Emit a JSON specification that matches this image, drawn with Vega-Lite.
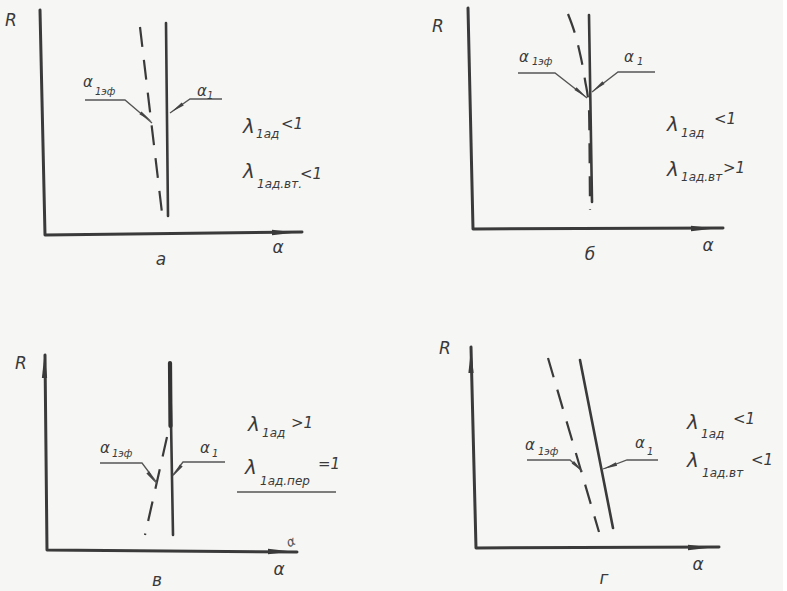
{
  "$schema": "https://vega.github.io/schema/vega-lite/v6.json",
  "padding": 0,
  "background": "#f6f6f4",
  "config": {"view": {"stroke": null}},
  "data": {"values": [
    {"panel": "а", "kind": "axis", "id": "ax", "order": 1, "x": -0.5, "y": 22.5},
    {"panel": "а", "kind": "axis", "id": "ax", "order": 2, "x": 0, "y": 0},
    {"panel": "а", "kind": "axis", "id": "ax", "order": 3, "x": 25.7, "y": 0.3},
    {"panel": "а", "kind": "axisArrow", "x": 23.9, "y": 0.25, "angle": 90},
    {"panel": "а", "kind": "solid", "order": 1, "x": 12.1, "y": 21.2},
    {"panel": "а", "kind": "solid", "order": 2, "x": 12.3, "y": 1.9},
    {"panel": "а", "kind": "dashed", "order": 1, "x": 9.5, "y": 20.8},
    {"panel": "а", "kind": "dashed", "order": 2, "x": 11.7, "y": 2.2},
    {"panel": "а", "kind": "leader", "id": "l1", "order": 1, "x": 4.0, "y": 13.5},
    {"panel": "а", "kind": "leader", "id": "l1", "order": 2, "x": 8.0, "y": 13.5},
    {"panel": "а", "kind": "leader", "id": "l1", "order": 3, "x": 10.7, "y": 11.2},
    {"panel": "а", "kind": "leader", "id": "l2", "order": 1, "x": 17.7, "y": 13.6},
    {"panel": "а", "kind": "leader", "id": "l2", "order": 2, "x": 14.5, "y": 13.6},
    {"panel": "а", "kind": "leader", "id": "l2", "order": 3, "x": 12.5, "y": 12.2},
    {"panel": "а", "kind": "tipArrow", "x": 10.1, "y": 11.8, "angle": 127},
    {"panel": "а", "kind": "tipArrow", "x": 13.2, "y": 12.7, "angle": 235},
    {"panel": "а", "kind": "main", "x": 3.8, "y": 15.3, "text": "α"},
    {"panel": "а", "kind": "main", "x": 15.2, "y": 14.4, "text": "α"},
    {"panel": "а", "kind": "sub", "x": 5.0, "y": 14.3, "text": "1эф"},
    {"panel": "а", "kind": "sub", "x": 16.2, "y": 13.9, "text": "1"},
    {"panel": "а", "kind": "lambda", "x": 19.8, "y": 10.8, "text": "λ"},
    {"panel": "а", "kind": "lambda", "x": 19.8, "y": 6.3, "text": "λ"},
    {"panel": "а", "kind": "lsub", "x": 21.1, "y": 10.1, "text": "1ад"},
    {"panel": "а", "kind": "lsub", "x": 21.2, "y": 5.1, "text": "1ад.вт."},
    {"panel": "а", "kind": "rel", "x": 23.6, "y": 11.1, "text": "<1"},
    {"panel": "а", "kind": "rel", "x": 25.5, "y": 6.1, "text": "<1"},
    {"panel": "а", "kind": "axisLabel", "x": -3.4, "y": 21.4, "text": "R"},
    {"panel": "а", "kind": "axisLabel", "x": 23.3, "y": -1.3, "text": "α"},
    {"panel": "а", "kind": "caption", "x": 11.6, "y": -2.5, "text": "а"},

    {"panel": "б", "kind": "axis", "id": "ax", "order": 1, "x": -0.5, "y": 22.7},
    {"panel": "б", "kind": "axis", "id": "ax", "order": 2, "x": 0, "y": 0.6},
    {"panel": "б", "kind": "axis", "id": "ax", "order": 3, "x": 25.0, "y": 0.7},
    {"panel": "б", "kind": "axisArrow", "x": 23.0, "y": 0.65, "angle": 90},
    {"panel": "б", "kind": "solid", "order": 1, "x": 11.6, "y": 22.0},
    {"panel": "б", "kind": "solid", "order": 2, "x": 11.9, "y": 3.3},
    {"panel": "б", "kind": "dashed", "order": 1, "x": 9.5, "y": 22.1},
    {"panel": "б", "kind": "dashed", "order": 2, "x": 10.5, "y": 19.0},
    {"panel": "б", "kind": "dashed", "order": 3, "x": 11.2, "y": 15.5},
    {"panel": "б", "kind": "dashed", "order": 4, "x": 11.6, "y": 12.5},
    {"panel": "б", "kind": "dashed", "order": 5, "x": 11.7, "y": 2.5},
    {"panel": "б", "kind": "leader", "id": "l1", "order": 1, "x": 4.5, "y": 16.2},
    {"panel": "б", "kind": "leader", "id": "l1", "order": 2, "x": 8.2, "y": 16.2},
    {"panel": "б", "kind": "leader", "id": "l1", "order": 3, "x": 11.4, "y": 13.7},
    {"panel": "б", "kind": "leader", "id": "l2", "order": 1, "x": 18.2, "y": 16.3},
    {"panel": "б", "kind": "leader", "id": "l2", "order": 2, "x": 14.5, "y": 16.3},
    {"panel": "б", "kind": "leader", "id": "l2", "order": 3, "x": 11.9, "y": 14.3},
    {"panel": "б", "kind": "tipArrow", "x": 10.8, "y": 14.2, "angle": 128},
    {"panel": "б", "kind": "tipArrow", "x": 12.5, "y": 14.8, "angle": 232},
    {"panel": "б", "kind": "main", "x": 4.6, "y": 17.8, "text": "α"},
    {"panel": "б", "kind": "main", "x": 15.1, "y": 17.8, "text": "α"},
    {"panel": "б", "kind": "sub", "x": 5.9, "y": 17.3, "text": "1эф"},
    {"panel": "б", "kind": "sub", "x": 16.4, "y": 17.3, "text": "1"},
    {"panel": "б", "kind": "lambda", "x": 19.4, "y": 11.0, "text": "λ"},
    {"panel": "б", "kind": "lambda", "x": 19.4, "y": 6.5, "text": "λ"},
    {"panel": "б", "kind": "lsub", "x": 20.8, "y": 10.2, "text": "1ад"},
    {"panel": "б", "kind": "lsub", "x": 20.8, "y": 5.8, "text": "1ад.вт"},
    {"panel": "б", "kind": "rel", "x": 24.1, "y": 11.6, "text": "<1"},
    {"panel": "б", "kind": "rel", "x": 25.0, "y": 6.7, "text": ">1"},
    {"panel": "б", "kind": "axisLabel", "x": -3.5, "y": 20.8, "text": "R"},
    {"panel": "б", "kind": "axisLabel", "x": 23.5, "y": -1.1, "text": "α"},
    {"panel": "б", "kind": "caption", "x": 11.7, "y": -2.0, "text": "б"},

    {"panel": "в", "kind": "axis", "id": "ax", "order": 1, "x": 0, "y": 19.7},
    {"panel": "в", "kind": "axis", "id": "ax", "order": 2, "x": 0.2, "y": 0.2},
    {"panel": "в", "kind": "axis", "id": "ax", "order": 3, "x": 25.2, "y": 0},
    {"panel": "в", "kind": "axisArrow", "x": -0.05, "y": 18.6, "angle": 0},
    {"panel": "в", "kind": "axisArrow", "x": 23.5, "y": 0.05, "angle": 90},
    {"panel": "в", "kind": "solid", "order": 1, "x": 12.5, "y": 18.9},
    {"panel": "в", "kind": "solid", "order": 2, "x": 12.8, "y": 1.7},
    {"panel": "в", "kind": "solidThick", "order": 1, "x": 12.5, "y": 18.9},
    {"panel": "в", "kind": "solidThick", "order": 2, "x": 12.55, "y": 12.6},
    {"panel": "в", "kind": "dashed", "order": 1, "x": 12.2, "y": 11.5},
    {"panel": "в", "kind": "dashed", "order": 2, "x": 10.0, "y": 1.7},
    {"panel": "в", "kind": "leader", "id": "l1", "order": 1, "x": 5.5, "y": 8.9},
    {"panel": "в", "kind": "leader", "id": "l1", "order": 2, "x": 9.7, "y": 8.9},
    {"panel": "в", "kind": "leader", "id": "l1", "order": 3, "x": 11.2, "y": 6.9},
    {"panel": "в", "kind": "leader", "id": "l2", "order": 1, "x": 18.0, "y": 9.0},
    {"panel": "в", "kind": "leader", "id": "l2", "order": 2, "x": 13.8, "y": 9.0},
    {"panel": "в", "kind": "leader", "id": "l2", "order": 3, "x": 12.8, "y": 7.7},
    {"panel": "в", "kind": "leader", "id": "l3", "order": 1, "x": 19.2, "y": 6.0},
    {"panel": "в", "kind": "leader", "id": "l3", "order": 2, "x": 29.1, "y": 6.0},
    {"panel": "в", "kind": "tipArrow", "x": 10.7, "y": 7.4, "angle": 143},
    {"panel": "в", "kind": "tipArrow", "x": 13.2, "y": 8.1, "angle": 218},
    {"panel": "в", "kind": "main", "x": 5.5, "y": 10.4, "text": "α"},
    {"panel": "в", "kind": "main", "x": 15.5, "y": 10.4, "text": "α"},
    {"panel": "в", "kind": "sub", "x": 6.7, "y": 9.8, "text": "1эф"},
    {"panel": "в", "kind": "sub", "x": 16.7, "y": 9.8, "text": "1"},
    {"panel": "в", "kind": "lambda", "x": 20.3, "y": 12.7, "text": "λ"},
    {"panel": "в", "kind": "lambda", "x": 20.0, "y": 8.4, "text": "λ"},
    {"panel": "в", "kind": "lsub", "x": 21.7, "y": 11.9, "text": "1ад"},
    {"panel": "в", "kind": "lsub", "x": 21.5, "y": 7.1, "text": "1ад.пер"},
    {"panel": "в", "kind": "rel", "x": 24.6, "y": 12.9, "text": ">1"},
    {"panel": "в", "kind": "rel", "x": 27.3, "y": 8.8, "text": "=1"},
    {"panel": "в", "kind": "axisLabel", "x": -2.4, "y": 18.8, "text": "R"},
    {"panel": "в", "kind": "axisLabel", "x": 23.4, "y": -1.8, "text": "α"},
    {"panel": "в", "kind": "caption", "x": 11.2, "y": -2.9, "text": "в"},
    {"panel": "в", "kind": "scribble", "x": 24.6, "y": 1.0, "text": "α"},

    {"panel": "г", "kind": "axis", "id": "ax", "order": 1, "x": -0.2, "y": 20.5},
    {"panel": "г", "kind": "axis", "id": "ax", "order": 2, "x": 0.3, "y": 0.4},
    {"panel": "г", "kind": "axis", "id": "ax", "order": 3, "x": 24.6, "y": 0.5},
    {"panel": "г", "kind": "axisArrow", "x": -0.2, "y": 19.1, "angle": 0},
    {"panel": "г", "kind": "axisArrow", "x": 22.7, "y": 0.45, "angle": 90},
    {"panel": "г", "kind": "solid", "order": 1, "x": 10.7, "y": 19.2},
    {"panel": "г", "kind": "solid", "order": 2, "x": 14.0, "y": 2.4},
    {"panel": "г", "kind": "dashed", "order": 1, "x": 7.5, "y": 19.4},
    {"panel": "г", "kind": "dashed", "order": 2, "x": 12.6, "y": 2.0},
    {"panel": "г", "kind": "leader", "id": "l1", "order": 1, "x": 5.4, "y": 9.2},
    {"panel": "г", "kind": "leader", "id": "l1", "order": 2, "x": 9.7, "y": 9.2},
    {"panel": "г", "kind": "leader", "id": "l1", "order": 3, "x": 10.9, "y": 8.1},
    {"panel": "г", "kind": "leader", "id": "l2", "order": 1, "x": 18.5, "y": 9.2},
    {"panel": "г", "kind": "leader", "id": "l2", "order": 2, "x": 15.4, "y": 9.2},
    {"panel": "г", "kind": "leader", "id": "l2", "order": 3, "x": 13.0, "y": 8.3},
    {"panel": "г", "kind": "tipArrow", "x": 10.5, "y": 8.5, "angle": 132},
    {"panel": "г", "kind": "tipArrow", "x": 13.7, "y": 8.55, "angle": 249},
    {"panel": "г", "kind": "main", "x": 5.2, "y": 10.7, "text": "α"},
    {"panel": "г", "kind": "main", "x": 16.2, "y": 10.9, "text": "α"},
    {"panel": "г", "kind": "sub", "x": 6.5, "y": 10.0, "text": "1эф"},
    {"panel": "г", "kind": "sub", "x": 17.4, "y": 10.0, "text": "1"},
    {"panel": "г", "kind": "lambda", "x": 21.4, "y": 12.9, "text": "λ"},
    {"panel": "г", "kind": "lambda", "x": 21.4, "y": 9.1, "text": "λ"},
    {"panel": "г", "kind": "lsub", "x": 22.8, "y": 11.8, "text": "1ад"},
    {"panel": "г", "kind": "lsub", "x": 22.9, "y": 7.9, "text": "1ад.вт"},
    {"panel": "г", "kind": "rel", "x": 26.0, "y": 13.3, "text": "<1"},
    {"panel": "г", "kind": "rel", "x": 27.8, "y": 9.2, "text": "<1"},
    {"panel": "г", "kind": "axisLabel", "x": -2.8, "y": 20.3, "text": "R"},
    {"panel": "г", "kind": "axisLabel", "x": 22.5, "y": -1.3, "text": "α"},
    {"panel": "г", "kind": "caption", "x": 13.1, "y": -2.7, "text": "г"}
  ]},
  "transform": [
    {"calculate": "datum.panel === 'а' || datum.panel === 'б' ? 'top' : 'bottom'", "as": "panelRow"},
    {"calculate": "datum.panel === 'а' || datum.panel === 'в' ? 'left' : 'right'", "as": "panelCol"}
  ],
  "facet": {
    "row": {"field": "panelRow", "type": "nominal", "sort": ["top", "bottom"], "title": null, "header": {"labels": false}},
    "column": {"field": "panelCol", "type": "nominal", "sort": ["left", "right"], "title": null, "header": {"labels": false}}
  },
  "spacing": {"row": 43, "column": 73},
  "bounds": "flush",
  "spec": {
    "width": 355,
    "height": 274,
    "encoding": {
      "x": {"field": "x", "type": "quantitative", "axis": null, "scale": {"domain": [-4.5, 31.0], "nice": false, "zero": false}},
      "y": {"field": "y", "type": "quantitative", "axis": null, "scale": {"domain": [-3.9, 23.5], "nice": false, "zero": false}}
    },
    "layer": [
      {
        "transform": [{"filter": "datum.kind === 'axis'"}],
        "mark": {"type": "line", "color": "#3a3a3a", "strokeWidth": 3, "strokeCap": "round", "strokeJoin": "round"},
        "encoding": {"order": {"field": "order", "type": "quantitative"}}
      },
      {
        "transform": [{"filter": "datum.kind === 'axisArrow'"}],
        "mark": {"type": "point", "shape": "M0,-1L0.22,1L-0.22,1Z", "filled": true, "color": "#3a3a3a", "opacity": 1, "size": 576},
        "encoding": {"angle": {"field": "angle", "type": "quantitative", "scale": null}}
      },
      {
        "transform": [{"filter": "datum.kind === 'solid'"}],
        "mark": {"type": "line", "color": "#3a3a3a", "strokeWidth": 2.6, "strokeCap": "round"},
        "encoding": {"order": {"field": "order", "type": "quantitative"}}
      },
      {
        "transform": [{"filter": "datum.kind === 'solidThick'"}],
        "mark": {"type": "line", "color": "#333333", "strokeWidth": 4.2, "strokeCap": "round"},
        "encoding": {"order": {"field": "order", "type": "quantitative"}}
      },
      {
        "transform": [{"filter": "datum.kind === 'dashed'"}],
        "mark": {"type": "line", "color": "#3a3a3a", "strokeWidth": 2.2, "strokeDash": [20, 13], "interpolate": "monotone"},
        "encoding": {"order": {"field": "order", "type": "quantitative"}}
      },
      {
        "transform": [{"filter": "datum.kind === 'leader'"}],
        "mark": {"type": "line", "color": "#555555", "strokeWidth": 1.3},
        "encoding": {"detail": {"field": "id"}, "order": {"field": "order", "type": "quantitative"}}
      },
      {
        "transform": [{"filter": "datum.kind === 'tipArrow'"}],
        "mark": {"type": "point", "shape": "M0,-1L0.25,1L-0.25,1Z", "filled": true, "color": "#444444", "opacity": 1, "size": 196},
        "encoding": {"angle": {"field": "angle", "type": "quantitative", "scale": null}}
      },
      {
        "transform": [{"filter": "datum.kind === 'main'"}],
        "mark": {"type": "text", "align": "left", "baseline": "middle", "font": "DejaVu Sans", "fontStyle": "italic", "fontSize": 15, "color": "#3a3a3a"},
        "encoding": {"text": {"field": "text"}}
      },
      {
        "transform": [{"filter": "datum.kind === 'sub'"}],
        "mark": {"type": "text", "align": "left", "baseline": "middle", "font": "DejaVu Sans", "fontStyle": "italic", "fontSize": 10, "color": "#3a3a3a"},
        "encoding": {"text": {"field": "text"}}
      },
      {
        "transform": [{"filter": "datum.kind === 'lambda'"}],
        "mark": {"type": "text", "align": "left", "baseline": "middle", "font": "DejaVu Sans", "fontStyle": "italic", "fontSize": 20, "color": "#3a3a3a"},
        "encoding": {"text": {"field": "text"}}
      },
      {
        "transform": [{"filter": "datum.kind === 'lsub'"}],
        "mark": {"type": "text", "align": "left", "baseline": "middle", "font": "DejaVu Sans", "fontStyle": "italic", "fontSize": 12, "color": "#3a3a3a"},
        "encoding": {"text": {"field": "text"}}
      },
      {
        "transform": [{"filter": "datum.kind === 'rel'"}],
        "mark": {"type": "text", "align": "left", "baseline": "middle", "font": "DejaVu Sans", "fontStyle": "italic", "fontSize": 15, "color": "#3a3a3a"},
        "encoding": {"text": {"field": "text"}}
      },
      {
        "transform": [{"filter": "datum.kind === 'axisLabel'"}],
        "mark": {"type": "text", "align": "center", "baseline": "middle", "font": "DejaVu Sans", "fontStyle": "italic", "fontSize": 17, "color": "#3a3a3a"},
        "encoding": {"text": {"field": "text"}}
      },
      {
        "transform": [{"filter": "datum.kind === 'caption'"}],
        "mark": {"type": "text", "align": "center", "baseline": "middle", "font": "DejaVu Sans", "fontStyle": "italic", "fontSize": 17, "color": "#3a3a3a"},
        "encoding": {"text": {"field": "text"}}
      },
      {
        "transform": [{"filter": "datum.kind === 'scribble'"}],
        "mark": {"type": "text", "align": "center", "baseline": "middle", "font": "DejaVu Sans", "fontStyle": "italic", "fontSize": 13, "angle": -25, "color": "#555555"},
        "encoding": {"text": {"field": "text"}}
      }
    ]
  }
}
